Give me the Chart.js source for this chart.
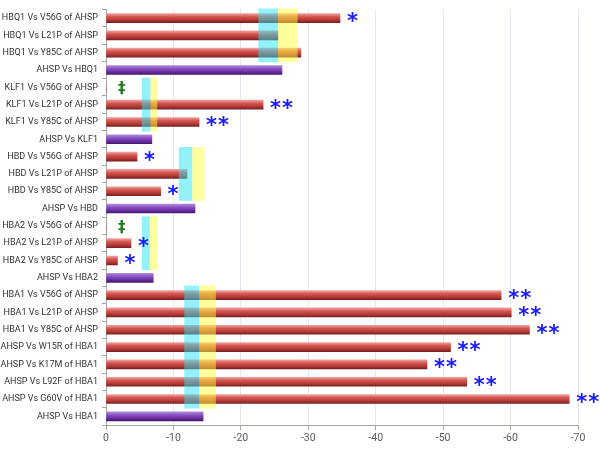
<!DOCTYPE html>
<html>
<head>
<meta charset="utf-8">
<script src="https://cdn.jsdelivr.net/npm/chart.js@4"></script>
<style>
  html, body { margin: 0; padding: 0; background: #fff; }
  #wrap { width: 600px; height: 449px; }
</style>
</head>
<body>
<div id="wrap"><canvas id="bars"></canvas></div>
<script>
// rows top to bottom
const categories = [
  'HBQ1 Vs V56G of AHSP', 'HBQ1 Vs L21P of AHSP', 'HBQ1 Vs Y85C of AHSP', 'AHSP Vs HBQ1',
  'KLF1 Vs V56G of AHSP', 'KLF1 Vs L21P of AHSP', 'KLF1 Vs Y85C of AHSP', 'AHSP Vs KLF1',
  'HBD Vs V56G of AHSP', 'HBD Vs L21P of AHSP', 'HBD Vs Y85C of AHSP', 'AHSP Vs HBD',
  'HBA2 Vs V56G of AHSP', 'HBA2 Vs L21P of AHSP', 'HBA2 Vs Y85C of AHSP', 'AHSP Vs HBA2',
  'HBA1 Vs V56G of AHSP', 'HBA1 Vs L21P of AHSP', 'HBA1 Vs Y85C of AHSP',
  'AHSP Vs W15R of HBA1', 'AHSP Vs K17M of HBA1', 'AHSP Vs L92F of HBA1', 'AHSP Vs G60V of HBA1',
  'AHSP Vs HBA1'
];
const energies = [
  -34.7, -25.5, -28.9, -26.1,
  0, -23.3, -13.8, -6.8,
  -4.6, -12.0, -8.1, -13.2,
  0, -3.7, -1.7, -7.0,
  -58.6, -60.1, -62.8,
  -51.1, -47.6, -53.5, -68.7,
  -14.4
];
// wild type complexes are drawn purple
const isWildType = categories.map(c => /^AHSP Vs \S+$/.test(c));
const marks = [
  '*', '', '', '',
  '‡', '**', '**', '',
  '*', '', '*', '',
  '‡', '*', '*', '',
  '**', '**', '**',
  '**', '**', '**', '**',
  ''
];
const xTicks = [0, -10, -20, -30, -40, -50, -60, -70];

// shaded ranges behind each group (first row, last row, cyan from, cyan to / yellow from, yellow to)
const bandFirst = [0, 4, 8, 12, 16];
const bandLast = [2, 6, 10, 14, 22];
const cyanFrom = [-22.6, -5.3, -10.8, -5.3, -11.6];
const cyanTo = [-25.5, -6.6, -12.8, -6.5, -13.8];
const yellowTo = [-28.4, -7.6, -14.6, -7.6, -16.3];

const BAR = 9;

function barFill(c) {
  const chart = c.chart;
  const wild = isWildType[c.dataIndex];
  if (!chart.chartArea || !chart.scales.y) return wild ? '#7030a0' : '#c0504d';
  const y = chart.scales.y.getPixelForValue(c.dataIndex);
  const g = chart.ctx.createLinearGradient(0, y - BAR / 2, 0, y + BAR / 2);
  if (wild) {
    g.addColorStop(0, '#b08ad8');
    g.addColorStop(0.35, '#8a52c4');
    g.addColorStop(0.7, '#6a2ea0');
    g.addColorStop(1, '#45186c');
  } else {
    g.addColorStop(0, '#f0a09e');
    g.addColorStop(0.35, '#d4574f');
    g.addColorStop(0.7, '#b43a36');
    g.addColorStop(1, '#7a2020');
  }
  return g;
}

const overlays = {
  id: 'overlays',
  afterDatasetsDraw(chart) {
    const ctx = chart.ctx, x = chart.scales.x, y = chart.scales.y;
    ctx.save();
    for (let i = 0; i < bandFirst.length; i++) {
      const top = y.getPixelForValue(bandFirst[i] - 0.55);
      const bot = y.getPixelForValue(bandLast[i] + 0.55);
      const c0 = x.getPixelForValue(cyanFrom[i]);
      const c1 = x.getPixelForValue(cyanTo[i]);
      const y1 = x.getPixelForValue(yellowTo[i]);
      ctx.globalAlpha = 0.5;
      ctx.fillStyle = 'rgb(40,228,245)';
      ctx.fillRect(c0, top, c1 - c0, bot - top);
      ctx.fillStyle = 'rgb(255,255,60)';
      ctx.fillRect(c1, top, y1 - c1, bot - top);
    }
    ctx.globalAlpha = 1;
    ctx.textAlign = 'left';
    ctx.textBaseline = 'alphabetic';
    marks.forEach((m, i) => {
      if (!m) return;
      let px = x.getPixelForValue(energies[i]) + 7;
      const py = y.getPixelForValue(i);
      if (m === '‡') {
        ctx.fillStyle = '#1f7a1f';
        ctx.font = 'bold 15px "DejaVu Sans"';
        ctx.fillText(m, px + 5, py + 6);
        return;
      }
      ctx.fillStyle = '#1a1aff';
      ctx.font = 'bold 21px "DejaVu Sans"';
      for (const ch of m) {
        ctx.fillText(ch, px, py + 10);
        px += 12;
      }
    });
    ctx.restore();
  }
};

new Chart(document.getElementById('bars'), {
  type: 'bar',
  data: {
    labels: categories,
    datasets: [{
      data: energies,
      backgroundColor: barFill,
      barThickness: BAR,
      borderWidth: 0
    }]
  },
  options: {
    indexAxis: 'y',
    responsive: true,
    maintainAspectRatio: false,
    animation: false,
    layout: { padding: { top: 9, right: 22, left: 0, bottom: 0 } },
    plugins: { legend: { display: false }, tooltip: { enabled: false } },
    scales: {
      x: {
        reverse: true,
        min: -70,
        max: 0,
        afterFit: s => { s.height = 24; },
        afterBuildTicks: s => { s.ticks = xTicks.map(v => ({ value: v })); },
        ticks: { color: '#595959', font: { family: 'Roboto', size: 10.5 }, padding: 2, maxRotation: 0 },
        grid: { color: '#e3e7ef', tickColor: '#a6a6a6', tickLength: 5 },
        border: { color: '#a6a6a6' }
      },
      y: {
        afterFit: s => { s.width = 106; },
        ticks: { color: '#333', font: { family: 'Roboto', size: 9 }, padding: 4, autoSkip: false },
        grid: { offset: true, drawOnChartArea: false, tickColor: '#a6a6a6', tickLength: 4 },
        border: { color: '#a6a6a6' }
      }
    }
  },
  plugins: [overlays]
});
</script>
</body>
</html>
